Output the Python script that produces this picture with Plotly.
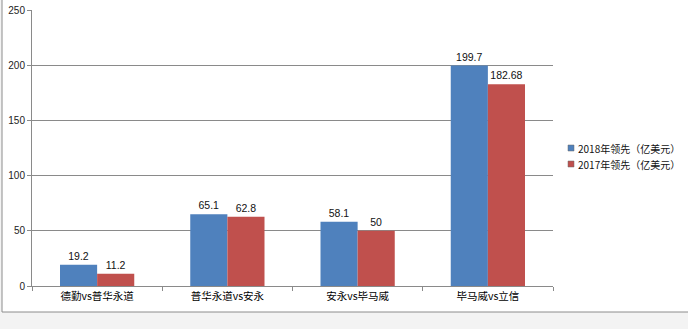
import plotly.graph_objects as go

categories = ["德勤vs普华永道", "普华永道vs安永", "安永vs毕马威", "毕马威vs立信"]
series_names = ["2018年领先（亿美元）", "2017年领先（亿美元）"]
values_2018 = [19.2, 65.1, 58.1, 199.7]
values_2017 = [11.2, 62.8, 50, 182.68]
labels_2018 = ["19.2", "65.1", "58.1", "199.7"]
labels_2017 = ["11.2", "62.8", "50", "182.68"]
colors = ["#4F81BD", "#C0504D"]

NUM = "Liberation Sans, Arial, sans-serif"
CJK = "Noto Sans CJK SC, sans-serif"

fig = go.Figure()
for name, vals, labs, col in [(series_names[0], values_2018, labels_2018, colors[0]),
                              (series_names[1], values_2017, labels_2017, colors[1])]:
    fig.add_trace(go.Bar(
        x=categories, y=vals, name=name, marker=dict(color=col, line=dict(width=0)),
        text=labs, textposition="outside", cliponaxis=False, showlegend=False,
        textfont=dict(family=NUM, size=10.5, color="#111111"),
    ))

W, H = 688, 329
L, R, T, B = 32, 135, 10, 43
pw, ph = W - L - R, H - T - B

def px(x):
    return (x - L) / pw

def py(y):
    return (H - B - y) / ph

# chart frame
fig.add_shape(type="rect", xref="paper", yref="paper", layer="below",
              x0=px(2), x1=px(690), y0=py(312), y1=py(-2),
              fillcolor="white", line=dict(color="#8c8c8c", width=1))

# manual legend (small squares + text)
for i, (name, col) in enumerate(zip(series_names, colors)):
    yc = 148 + i * 16
    fig.add_shape(type="rect", xref="paper", yref="paper",
                  x0=px(568), x1=px(574), y0=py(yc + 3), y1=py(yc - 3),
                  fillcolor=col, line=dict(color="#6a6a6a", width=0.5))
    fig.add_annotation(xref="paper", yref="paper", x=px(576), y=py(yc),
                       xanchor="left", yanchor="middle", showarrow=False,
                       text=name, font=dict(family=CJK, size=10, color="#111111"))

fig.update_layout(
    width=W, height=H,
    margin=dict(l=L, r=R, t=T, b=B, autoexpand=False),
    paper_bgcolor="#f3f3f3",
    plot_bgcolor="rgba(0,0,0,0)",
    barmode="group", bargap=0.43, bargroupgap=0,
    showlegend=False,
    xaxis=dict(
        showgrid=False, showline=True, linecolor="#8a8a8a", linewidth=1,
        ticks="outside", ticklen=4, tickcolor="#8a8a8a", tickson="boundaries",
        tickfont=dict(family=CJK, size=10.5, color="#000000"),
    ),
    yaxis=dict(
        range=[0, 250], dtick=50, showgrid=True, gridcolor="#8a8a8a", gridwidth=1,
        showline=True, linecolor="#8a8a8a", linewidth=1,
        ticks="outside", ticklen=4, tickcolor="#8a8a8a",
        tickfont=dict(family=NUM, size=10, color="#222222"),
        zeroline=False,
    ),
)

fig.write_html("out.html")
